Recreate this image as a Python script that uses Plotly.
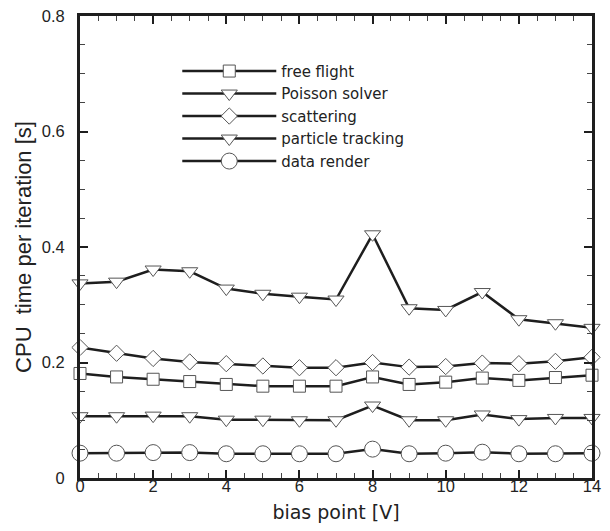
import plotly.graph_objects as go

bias = list(range(15))
free_flight = [0.181, 0.175, 0.171, 0.167, 0.162, 0.159, 0.159, 0.159, 0.175, 0.162, 0.166, 0.173, 0.169, 0.174, 0.178]
poisson = [0.337, 0.340, 0.361, 0.358, 0.328, 0.319, 0.314, 0.309, 0.422, 0.294, 0.291, 0.322, 0.275, 0.268, 0.260]
scattering = [0.226, 0.216, 0.207, 0.201, 0.198, 0.194, 0.191, 0.191, 0.200, 0.192, 0.193, 0.199, 0.198, 0.202, 0.209]
tracking = [0.107, 0.107, 0.108, 0.107, 0.101, 0.101, 0.100, 0.100, 0.1255, 0.100, 0.100, 0.110, 0.102, 0.104, 0.104]
render = [0.043, 0.043, 0.044, 0.044, 0.042, 0.042, 0.042, 0.042, 0.050, 0.042, 0.043, 0.0447, 0.042, 0.042, 0.043]
x_ticks = [0, 2, 4, 6, 8, 10, 12, 14]
y_ticks = [0, 0.2, 0.4, 0.6, 0.8]
y_tick_text = ["0", "0.2", "0.4", "0.6", "0.8"]

series = [
    ("free flight", free_flight, "square", 12),
    ("Poisson solver", poisson, "triangle-down", 14),
    ("scattering", scattering, "diamond", 12.5),
    ("particle tracking", tracking, "triangle-down", 14),
    ("data render", render, "circle", 16),
]

TICKFONT = "Liberation Sans, Arial, sans-serif"
WIDEFONT = "DejaVu Sans, Verdana, sans-serif"
fig = go.Figure()
for name, vals, sym, sz in series:
    fig.add_trace(go.Scatter(
        x=bias, y=vals, name=name, mode="lines+markers",
        line=dict(color="#1e1e1e", width=2.5),
        marker=dict(symbol=sym, size=sz, color="white",
                    line=dict(color="#555555", width=1)),
        cliponaxis=False,
    ))

axis_common = dict(
    showline=True, linecolor="#1e1e1e", linewidth=2.5, mirror="ticks",
    ticks="inside", ticklen=8, tickwidth=2, tickcolor="#1e1e1e",
    showgrid=False, zeroline=False, automargin=False,
    ticklabeloverflow="allow",
    tickfont=dict(family=TICKFONT, size=16.5, color="#222222"),
)
fig.update_layout(
    width=594, height=515,
    margin=dict(l=72, r=10, t=8, b=45),
    paper_bgcolor="white", plot_bgcolor="white",
    font=dict(family=TICKFONT, color="#222222"),
    showlegend=True,
    legend=dict(x=0.19, y=0.916, xanchor="left", yanchor="top",
                bgcolor="rgba(0,0,0,0)", itemwidth=94,
                font=dict(family=WIDEFONT, size=15, color="#222222"),
                tracegroupgap=0),
    xaxis=dict(range=[0, 14], tickmode="array", tickvals=x_ticks,
               ticklabelstandoff=-9,
               title=dict(text="bias point [V]", font=dict(family=WIDEFONT, size=19), standoff=17),
               minor=dict(dtick=0.5, ticks="inside", ticklen=5, tickcolor="#444444", tickwidth=1),
               **axis_common),
    yaxis=dict(range=[0, 0.8], tickmode="array", tickvals=y_ticks,
               ticktext=[t + "\u00a0\u00a0" for t in y_tick_text],
               title=dict(text="CPU\u00a0 time per iteration [s]", font=dict(family=TICKFONT, size=22), standoff=5),
               minor=dict(dtick=0.05, ticks="inside", ticklen=5, tickcolor="#444444", tickwidth=1),
               **axis_common),
)
fig.write_html("out.html")
